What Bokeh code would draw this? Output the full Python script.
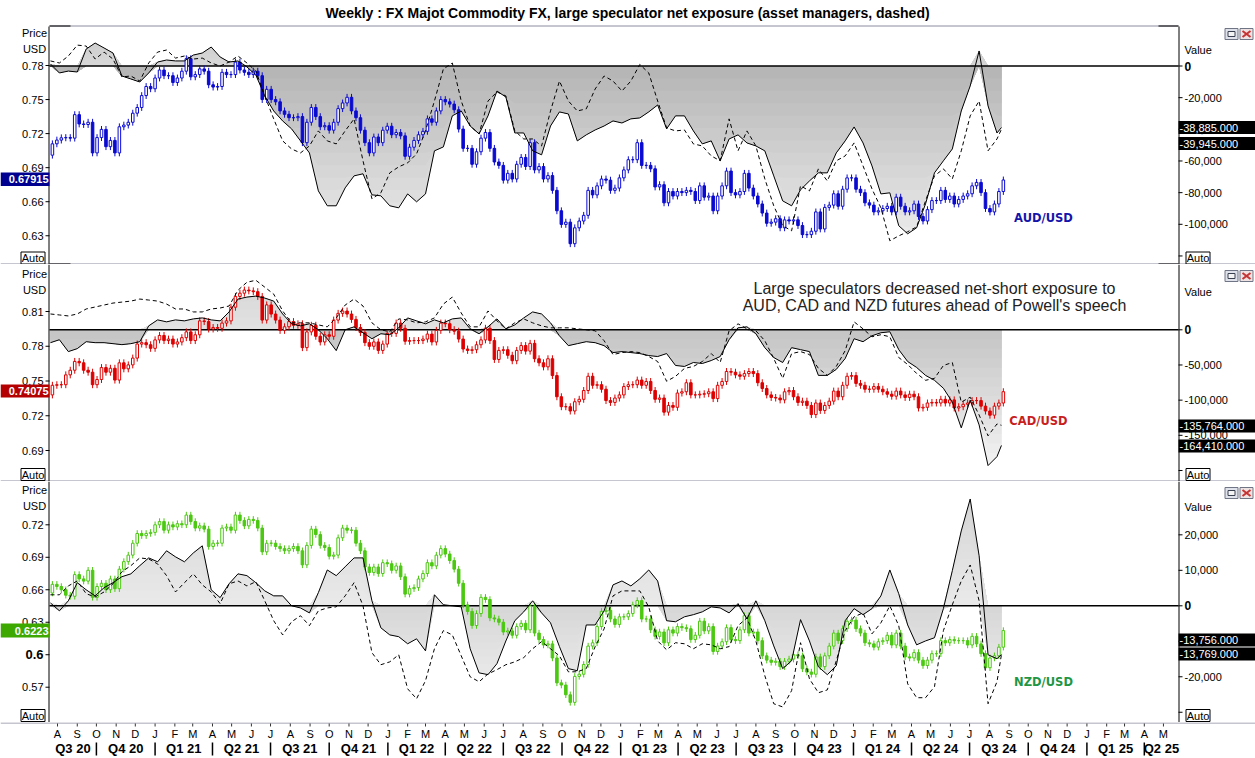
import numpy as np
import pandas as pd
from bokeh.plotting import figure
from bokeh.models import Range1d
from bokeh.layouts import column
from bokeh.embed import file_html
from bokeh.resources import INLINE
from bokeh.core.properties import value

# ---------------------------------------------------------------- data
# weekly closes (Friday), Jul 24 2020 .. Aug 23 2024
aud_open0 = 0.7010
aud_close = [
    .7110, .7143, .7163, .7165, .7160, .7367, .7285, .7280, .7300, .7030, .7165, .7237, .7085, .7140, .7030, .7260,
    .7275, .7300, .7380, .7430, .7535, .7615, .7595,
    .7690, .7760, .7710, .7710, .7650, .7690, .7750, .7860, .7700, .7720, .7770, .7750, .7630, .7610, .7615, .7740,
    .7720, .7720, .7830, .7760, .7740, .7720, .7750, .7710, .7500, .7590, .7500, .7480, .7400, .7370, .7340, .7340,
    .7350, .7120, .7300, .7430, .7350, .7260, .7270, .7230, .7300, .7420, .7470, .7520, .7400, .7340, .7230, .7120,
    .7030, .7170, .7120, .7230, .7265,
    .7190, .7210, .7180, .7000, .7080, .7140, .7190, .7220, .7330, .7300, .7400, .7500, .7480, .7460, .7410, .7240,
    .7070, .7070, .6930, .7040, .7160, .7210, .7070, .6950, .6920, .6790, .6850, .6800, .6930, .6990, .6910, .7120,
    .6880, .6910, .6800, .6830, .6700, .6520, .6400, .6420, .6230, .6370, .6430, .6480, .6700, .6660, .6740, .6800,
    .6790, .6700, .6720, .6810,
    .6880, .6970, .6970, .7120, .6920, .6920, .6890, .6730, .6750, .6590, .6690, .6650, .6690, .6680, .6700, .6690,
    .6610, .6740, .6640, .6650, .6520, .6650, .6740, .6870, .6680, .6660, .6690, .6850, .6720, .6650, .6580, .6500,
    .6410, .6420, .6450, .6370, .6440, .6430, .6440, .6390, .6310, .6310, .6340, .6510, .6360, .6550, .6570, .6670,
    .6560, .6710, .6810, .6810,
    .6710, .6680, .6590, .6570, .6510, .6520, .6540, .6560, .6510, .6640, .6560, .6510, .6520, .6580, .6470, .6430,
    .6530, .6610, .6610, .6700, .6620, .6650, .6580, .6620, .6650, .6670, .6740, .6770, .6680, .6540, .6510, .6580,
    .6690, .67915,
]
cad_open0 = 0.7380
cad_close = [
    .7463, .7468, .7468, .7553, .7593, .7669, .7657, .7593, .7576, .7468, .7513, .7616, .7576, .7610, .7508, .7657,
    .7605, .7639, .7698, .7819, .7831, .7813, .7782,
    .7855, .7893, .7849, .7862, .7819, .7837, .7874, .7924, .7849, .7899, .8019, .8013, .7949, .7962, .7955, .8000,
    .8019, .8137, .8230, .8258, .8285, .8278, .8271, .8230, .8026, .8157, .8078, .8026, .7937, .7968, .8013, .7981,
    .7994, .7788, .7924, .7981, .7886, .7837, .7899, .7886, .8026, .8084, .8104, .8078, .8032, .7962, .7918, .7831,
    .7800, .7837, .7764, .7819, .7911,
    .7911, .8000, .7955, .7843, .7849, .7849, .7849, .7862, .7905, .7837, .7937, .8000, .7994, .7943, .7930, .7862,
    .7776, .7764, .7770, .7813, .7855, .7955, .7849, .7686, .7764, .7770, .7722, .7675, .7764, .7806, .7758, .7825,
    .7692, .7657, .7622, .7692, .7547, .7364, .7278, .7278, .7241, .7321, .7342, .7418, .7541, .7463, .7468, .7429,
    .7331, .7315, .7353, .7380,
    .7452, .7468, .7468, .7508, .7463, .7496, .7418, .7342, .7353, .7231, .7289, .7273, .7396, .7407, .7485, .7380,
    .7380, .7386, .7390, .7407, .7348, .7463, .7496, .7582, .7576, .7553, .7541, .7564, .7582, .7564, .7485, .7435,
    .7380, .7358, .7353, .7337, .7407, .7418, .7364, .7315, .7326, .7289, .7210, .7310, .7246, .7289, .7326, .7413,
    .7364, .7463, .7541, .7547,
    .7479, .7463, .7429, .7429, .7452, .7429, .7407, .7386, .7369, .7413, .7380, .7358, .7386, .7364, .7267, .7273,
    .7310, .7315, .7310, .7342, .7310, .7337, .7267, .7278, .7299, .7310, .7331, .7331, .7283, .7241, .7205, .7283,
    .7310, .74075,
]
nzd_open0 = 0.6570
nzd_close = [
    .6650, .6630, .6600, .6550, .6540, .6740, .6700, .6680, .6780, .6530, .6630, .6660, .6600, .6700, .6610, .6790,
    .6860, .6920, .7030, .7120, .7100, .7120, .7130,
    .7200, .7230, .7150, .7200, .7180, .7210, .7200, .7290, .7230, .7170, .7190, .7160, .7000, .7030, .7030, .7170,
    .7180, .7150, .7290, .7240, .7190, .7250, .7240, .7170, .6950, .7030, .7030, .7000, .6980, .6960, .6980, .7000,
    .6960, .6830, .7010, .7160, .7110, .7010, .6990, .6910, .6920, .7080, .7170, .7150, .7150, .7030, .6960, .6810,
    .6760, .6810, .6750, .6850, .6840,
    .6780, .6820, .6720, .6560, .6610, .6620, .6700, .6750, .6850, .6820, .6920, .6980, .6930, .6870, .6790, .6660,
    .6460, .6400, .6270, .6380, .6530, .6510, .6340, .6330, .6300, .6210, .6220, .6180, .6260, .6290, .6230, .6450,
    .6200, .6140, .6090, .6100, .5970, .5740, .5720, .5630, .5560, .5800, .5820, .5910, .6080, .6110, .6260, .6400,
    .6410, .6330, .6280, .6350,
    .6350, .6380, .6460, .6500, .6330, .6330, .6230, .6170, .6210, .6110, .6230, .6200, .6260, .6250, .6240, .6140,
    .6180, .6310, .6220, .6260, .6030, .6080, .6120, .6250, .6140, .6130, .6230, .6360, .6200, .6210, .6130, .5990,
    .5950, .5930, .5940, .5890, .5940, .5960, .6000, .5990, .5870, .5840, .5820, .5980, .5890, .5990, .6080, .6200,
    .6130, .6240, .6310, .6320,
    .6240, .6200, .6110, .6100, .6070, .6120, .6130, .6180, .6090, .6200, .6080, .5980, .5970, .6020, .5950, .5900,
    .5950, .6010, .6010, .6130, .6110, .6140, .6130, .6130, .6130, .6090, .6170, .6100, .6010, .5880, .5970, .5990,
    .6070, .6223,
]
last_candle = "2024-08-23"

# net positioning, sampled every 2nd COT week from Jul 21 2020, last point = Aug 20 2024
aud_spec = [
    1300, -4400, -3200, -3800, 10700, 14500, 11400, 8200, -6300, -8200,
    -10100, -4400, 2500, 3800, 3200, 3200, 6900, 8200, 12000, 5700,
    2500, 3200, -600, -5700, -18900, -28400, -34700, -39700, -47300, -54900,
    -78900, -88300, -88300, -77000, -69400, -68100, -81400, -82000, -88300, -89600,
    -80800, -85800, -80800, -53600, -51100, -31500, -28400, -37900, -42900, -31500,
    -15800, -19600, -42300, -42300, -53600, -56100, -37900, -29000, -30300, -47300,
    -43500, -40400, -37900, -34700, -36000, -33400, -32800, -29000, -24600, -39700,
    -31500, -31500, -41000, -49200, -47300, -59900, -46100, -43500, -48600, -50500,
    -53600, -69400, -85200, -88300, -78200, -72600, -67500, -67500, -54900, -47300,
    -38500, -48600, -63100, -80800, -80100, -100900, -106000, -102200, -87100, -67500,
    -59900, -52400, -28400, -12600, 9500, -25200, -42300, -38885,
]
aud_am = [
    3200, 1900, 6300, 13200, 12600, 4400, 8800, 4400, -6900, -6300,
    -9500, 1900, 8800, 10100, 5000, 6300, 4400, 5000, 1900, 0,
    2500, 6300, 1900, -3200, -18900, -33400, -47300, -52400, -54900, -50500,
    -41000, -47300, -49200, -41000, -33400, -59900, -83900, -80100, -67500, -63700,
    -61200, -55500, -41000, -22100, -1900, 1900, -22100, -37900, -42900, -22100,
    -16400, -18900, -41000, -46100, -46100, -50500, -28400, -9500, -22100, -28400,
    -27100, -14500, -6300, -9500, -15800, -9500, 1000, -4400, -22100, -39100,
    -41000, -40400, -49200, -50500, -56800, -59900, -33400, -53600, -41000, -50500,
    -71300, -88300, -100900, -104100, -75700, -78900, -65000, -72600, -59900, -56800,
    -48600, -63100, -77600, -89600, -110400, -107300, -104700, -101600, -85200, -69400,
    -65000, -71300, -53600, -31500, -22100, -53600, -46100, -39945,
]
cad_spec = [
    -18300, -14100, -31000, -26800, -16900, -18300, -18300, -19700, -21100, -19700,
    -16900, 5600, 14100, 11300, 14100, 12700, 15500, 16900, 14100, 12700,
    25400, 43700, 46500, 47900, 45100, 40800, 22500, 8500, 5600, 8500,
    0, -12700, -29600, 0, 4200, -4200, -12700, -5600, -7000, 2800,
    16900, 12700, 8500, 14100, 9900, 15500, 16900, 1400, -5600, 4200,
    15500, 1400, 7000, 16900, 25400, 22500, 9900, -8500, -22500, -19700,
    -16900, -18300, -22500, -32400, -31000, -32400, -33800, -36600, -38000, -33800,
    -50700, -52100, -46500, -47900, -43700, -38000, -14100, 2800, 4200, -5600,
    -25400, -39400, -46500, -25400, -28200, -31000, -64800, -64800, -56300, -40800,
    -12700, -16900, -8500, -4200, -2800, -28200, -45100, -53500, -64800, -71800,
    -83100, -102800, -139400, -100000, -135200, -193000, -180300, -164410,
]
cad_am = [
    22500, 21100, 19700, 22500, 29600, 32400, 35200, 38000, 39400, 40800,
    43700, 42300, 40800, 36600, 29600, 29600, 25400, 25400, 29600, 31000,
    33800, 56300, 67600, 70400, 60600, 50700, 26800, 9900, 9900, 9900,
    7000, 4200, 16900, 35200, 43700, 33800, 9900, 0, -2800, 15500,
    14100, 9900, 11300, 16900, 36600, 46500, 23900, 4200, 4200, 26800,
    12700, 1400, 9900, 15500, 9900, 5600, 2800, 2800, 2800, 1400,
    0, -1400, -15500, -35200, -32400, -31000, -32400, -38000, -45100, -73200,
    -66200, -54900, -52100, -45100, -33800, -46500, -1400, 8500, 1400, -1400,
    -15500, -40800, -69000, -33800, -31000, -35200, -54900, -64800, -52100, -29600,
    11300, 1400, -9900, -7000, -9900, -39400, -49300, -62000, -71800, -69000,
    -50700, -46500, -102800, -95800, -121100, -150700, -133800, -135764,
]
nzd_spec = [
    800, -1400, 1400, 6500, 4500, 2800, 5100, 6500, 8200, 9000,
    11300, 13500, 12400, 15500, 13800, 12400, 14900, 16900, 4500, 2300,
    6200, 9000, 8500, 6500, 4200, 2800, 2800, 0, -600, -2000,
    3700, 10100, 8500, 11000, 13500, 13500, 1400, -6200, -8200, -8700,
    -10700, -9300, -12700, 3100, 300, 0, -300, -12100, -18900, -19400,
    -16300, -9900, -4200, -1700, 1400, -2000, -4800, -11500, -17700, -18300,
    -5400, -5400, -1400, 5900, 7000, 5600, 7600, 10100, 7000, -4200,
    -4500, -3100, -2500, -1700, -300, -600, -2000, 600, -3700, 1400,
    -4200, -11300, -17700, -15500, -3900, -9900, -17200, -19400, -16900, -4200,
    -800, -2500, -800, 2800, 10100, 3400, -5400, -11000, -9900, -9000,
    -800, 9900, 21100, 30100, 14100, -13800, -14900, -13756,
]
nzd_am = [
    3100, 3100, 5600, 7000, 3400, 2500, 3900, 6200, 9600, 11300,
    13500, 13200, 11800, 8500, 3900, 6500, 9000, 5900, 3900, 600,
    6200, 7000, 5600, 6800, 1400, -4200, -8200, -4500, -2800, -5600,
    -1400, -600, -300, 2800, 6500, 0, -13200, -16600, -15800, -13800,
    -23400, -26200, -21100, -12100, -7000, -8200, -14100, -20000, -21400, -19200,
    -18000, -16600, -15800, -14600, -12100, -10100, -12100, -14100, -18600, -18600,
    -17700, -11500, -6500, 2800, 4200, 4200, 4200, -300, -9900, -12400,
    -10400, -10700, -12100, -10700, -11000, -12100, -11500, -5600, -3400, -9900,
    -19700, -27600, -28500, -23900, -10400, -20600, -24500, -23700, -15500, -7000,
    -3100, -2000, -7900, -4800, 0, -5600, -22000, -25900, -25900, -22800,
    -7000, 300, 7000, 11500, 1400, -27600, -21400, -13769,
]
line_start = "2020-07-21"
line_last = "2024-08-20"

# axis ticks (labels hidden behind the "Auto" boxes are not printed)
aud_price_ticks = [0.63, 0.66, 0.69, 0.72, 0.75, 0.78]
aud_value_ticks = [0, -20000, -40000, -60000, -80000, -100000, -120000]
aud_value_hidden = [-120000]
cad_price_ticks = [0.69, 0.72, 0.75, 0.78, 0.81]
cad_value_ticks = [0, -50000, -100000, -150000, -200000]
cad_value_hidden = [-200000]
nzd_price_ticks = [0.57, 0.6, 0.63, 0.66, 0.69, 0.72]
nzd_value_ticks = [20000, 10000, 0, -10000, -20000, -30000]
nzd_value_hidden = [-30000]

month_letters = list("ASOND" + "JFMAMJJASOND" * 4 + "JFMAM")   # Aug 2020 .. May 2025
quarter_labels = ["Q3 20", "Q4 20", "Q1 21", "Q2 21", "Q3 21", "Q4 21", "Q1 22", "Q2 22", "Q3 22", "Q4 22",
                  "Q1 23", "Q2 23", "Q3 23", "Q4 23", "Q1 24", "Q2 24", "Q3 24", "Q4 24", "Q1 25", "Q2 25"]

title_text = "Weekly : FX Majot Commodity FX, large speculator net exposure (asset managers, dashed)"
note1 = "Large speculators decreased net-short exposure to"
note2 = "AUD, CAD and NZD futures ahead of Powell's speech"

# ---------------------------------------------------------------- geometry helpers
DAY = 86400000.0
BASE = pd.Timestamp("2020-08-01").value / 1e6
PPD = 0.6378           # pixels per day
W = 1255
FONT = "Liberation Sans"
FL, FR = 49, 1178      # plotting pane left / right edge (pixels)


def X(px):
    return BASE + (px - 57) / PPD * DAY


xr = Range1d(X(0), X(W))


def to_ms(idx):
    return np.array([pd.Timestamp(d).value / 1e6 for d in idx])


cdates = to_ms(pd.date_range(end=last_candle, periods=len(aud_close), freq="7D"))


def line_dates(n):
    d = list(pd.date_range(line_start, periods=n - 1, freq="14D")) + [pd.Timestamp(line_last)]
    return to_ms(d)


def mix(c0, c1, t):
    a = [int(c0[i:i + 2], 16) for i in (1, 3, 5)]
    b = [int(c1[i:i + 2], 16) for i in (1, 3, 5)]
    return "#%02x%02x%02x" % tuple(int(round(a[k] + (b[k] - a[k]) * t)) for k in range(3))


def new_fig(h, yr):
    p = figure(width=W, height=h, x_range=xr, y_range=yr, x_axis_type=None, y_axis_type=None,
               output_backend="svg", toolbar_location=None, min_border=0)
    p.outline_line_color = None
    p.grid.visible = False
    p.background_fill_color = "white"
    p.border_fill_color = "white"
    return p


class Panel:
    """top/bot: page pixel rows of this figure; price & value scales calibrated from the tick rows."""

    def __init__(self, top, bot, frame_top, p_ref, p_ref_py, p_per_px, v_zero_py, v_per_px):
        self.top, self.bot, self.frame_top = top, bot, frame_top
        self.pY = lambda py: p_ref - (py - p_ref_py) * p_per_px
        self.vY = lambda py: -(py - v_zero_py) * v_per_px
        p = new_fig(bot - top, Range1d(self.pY(bot), self.pY(top)))
        p.extra_y_ranges = {"val": Range1d(self.vY(bot), self.vY(top))}
        self.p = p

    # ---- texts / boxes in pixel positions
    def txt(self, px, py, s, size="11px", color="black", bold=False, align="left", font=FONT):
        self.p.text(x=[X(px)], y=[self.pY(py)], text=[s], text_font=value(font), text_font_size=size,
                    text_color=color, text_font_style="bold" if bold else "normal",
                    text_align=align, text_baseline="middle")

    def box(self, x0, x1, y0, y1, fill, line=None):
        self.p.quad(left=[X(x0)], right=[X(x1)], top=[self.pY(y0)], bottom=[self.pY(y1)],
                    fill_color=fill, line_color=line, line_width=1)

    def hline(self, x0, x1, py, color, width=1):
        self.p.segment(x0=[X(x0)], y0=[self.pY(py)], x1=[X(x1)], y1=[self.pY(py)],
                       line_color=color, line_width=width)

    # ---- chart parts
    def fills(self, xs, v, below, above, n=16):
        p = self.p
        v = np.asarray(v, float)
        vmin, vmax = self.vY(self.bot), self.vY(self.frame_top)
        for j in range(n - 1, -1, -1):
            lo = vmin * (j + 1) / n
            p.varea(x=xs, y1=np.clip(v, lo, 0), y2=np.zeros_like(v),
                    fill_color=mix(below[0], below[1], (j + 0.5) / n), y_range_name="val")
        for j in range(n - 1, -1, -1):
            hi = vmax * (j + 1) / n
            p.varea(x=xs, y1=np.zeros_like(v), y2=np.clip(v, 0, hi),
                    fill_color=mix(above[0], above[1], (j + 0.5) / n), y_range_name="val")
        p.segment(x0=[X(FL)], y0=[0], x1=[X(FR)], y1=[0], line_color="black", line_width=1.5,
                  y_range_name="val")

    def candles(self, open0, closes, color, wick=0.003):
        p = self.p
        c = np.asarray(closes, float)
        o = np.concatenate([[open0], c[:-1]])
        up = c >= o
        hi = np.maximum(o, c) + wick
        lo = np.minimum(o, c) - wick
        p.segment(x0=cdates, y0=hi, x1=cdates, y1=lo, line_color=color, line_width=1)
        w = 4.0 * DAY
        p.vbar(x=cdates[up], top=c[up], bottom=o[up], width=w, fill_color="white", line_color=color,
               line_width=1)
        p.vbar(x=cdates[~up], top=o[~up], bottom=c[~up], width=w, fill_color=color, line_color=color,
               line_width=1)

    def lines(self, spec, am):
        self.p.line(line_dates(len(spec)), spec, line_color="black", line_width=1, y_range_name="val")
        self.p.line(line_dates(len(am)), am, line_color="black", line_width=1, line_dash="4 3",
                    y_range_name="val")

    def axes(self, pticks, vticks, vhidden=(), bold_p=()):
        p = self.p
        yt, yb = self.pY(self.frame_top), self.pY(self.bot)
        p.segment(x0=[X(FL - 0.5), X(FR + 0.5)], y0=[yt, yt], x1=[X(FL - 0.5), X(FR + 0.5)], y1=[yb, yb],
                  line_color="black", line_width=1)
        n = len(pticks)
        p.segment(x0=[X(FL - 4)] * n, y0=pticks, x1=[X(FL)] * n, y1=pticks, line_color="black", line_width=1)
        norm = [t for t in pticks if t not in bold_p]
        p.text(x=[X(FL - 6)] * len(norm), y=norm, text=["%.2f" % t for t in norm], text_font=value(FONT),
               text_font_size="11px", text_align="right", text_baseline="middle", text_color="black")
        for t in bold_p:
            p.text(x=[X(FL - 6)], y=[t], text=["%g" % t], text_font=value(FONT), text_font_size="13px",
                   text_font_style="bold", text_align="right", text_baseline="middle", text_color="black")
        m = len(vticks)
        p.segment(x0=[X(FR)] * m, y0=vticks, x1=[X(FR + 4)] * m, y1=vticks, line_color="black",
                  line_width=1, y_range_name="val")
        nz = [t for t in vticks if t != 0 and t not in vhidden]
        p.text(x=[X(FR + 6)] * len(nz), y=nz, text=["{:,}".format(t) for t in nz], text_font=value(FONT),
               text_font_size="11px", text_align="left", text_baseline="middle", text_color="black",
               y_range_name="val")
        if 0 in vticks:
            p.text(x=[X(FR + 6)], y=[0], text=["0"], text_font=value(FONT), text_font_size="12px",
                   text_font_style="bold", text_align="left", text_baseline="middle", text_color="black",
                   y_range_name="val")

    def icons(self, y0):
        self.box(1224.5, 1237.5, y0, y0 + 11, "#dfe2ea", "#6f7585")
        self.box(1227.5, 1234.5, y0 + 3, y0 + 8, "#f4f4f4", "#3a4050")
        self.box(1239.5, 1252.5, y0, y0 + 11, "#efe2e2", "#6f7585")
        p = self.p
        p.segment(x0=[X(1242), X(1242)], y0=[self.pY(y0 + 2.5), self.pY(y0 + 8.5)],
                  x1=[X(1250), X(1250)], y1=[self.pY(y0 + 8.5), self.pY(y0 + 2.5)],
                  line_color="#c83232", line_width=2)


# ---------------------------------------------------------------- panels
P1 = Panel(0, 264, 26, 0.78, 65.0, 0.000881, 65.5, 631.7)
P2 = Panel(264, 481, 264, 0.81, 311.0, 0.0008633, 329.3, 1421.5)
P3 = Panel(481, 722, 481, 0.72, 524.3, 0.0009236, 605.3, 281.8)

P1.fills(line_dates(len(aud_spec)), aud_spec, ("#b4b4b4", "#f4f4f4"), ("#d8d8d8", "#c8c8c8"))
P2.fills(line_dates(len(cad_spec)), cad_spec, ("#c4c4c4", "#f8f8f8"), ("#e2e2e2", "#d2d2d2"))
P3.fills(line_dates(len(nzd_spec)), nzd_spec, ("#d6d6d6", "#f6f6f6"), ("#eaeaea", "#d2d2d2"))

P1.candles(aud_open0, aud_close, "#0a0ad0")
P2.candles(cad_open0, cad_close, "#dd0000")
P3.candles(nzd_open0, nzd_close, "#4cc812")

P1.lines(aud_spec, aud_am)
P2.lines(cad_spec, cad_am)
P3.lines(nzd_spec, nzd_am)

# frame edges / separators
P1.hline(FL, FR, 25.5, "#8c8ca0")
P1.hline(0, W, 263.5, "#8c8ca0")
P2.hline(0, W, 480.5, "#8c8ca0")
for xa, xb in ((FL, 70), (1158, FR)):
    P1.hline(xa, xb, 25.5, "black")
    P1.hline(xa, xb, 263.5, "black")

P1.axes(aud_price_ticks, aud_value_ticks, aud_value_hidden)
P2.axes(cad_price_ticks, cad_value_ticks, cad_value_hidden)
P3.axes(nzd_price_ticks, nzd_value_ticks, nzd_value_hidden, bold_p=(0.6,))

# ---------------------------------------------------------------- texts
P1.txt(627, 12, title_text, size="14px", bold=True, align="center")
P2.txt(934, 288, note1, size="16px", color="#222222", align="center")
P2.txt(934, 305, note2, size="16px", color="#222222", align="center")

for P, yp, yu, yv, ya, yi in ((P1, 32, 48, 49, 257.5, 28), (P2, 273, 289, 291, 474, 270),
                              (P3, 489, 505, 506, 715, 487)):
    P.txt(34, yp, "Price", align="center")
    P.txt(34, yu, "USD", align="center")
    P.txt(1184, yv, "Value")
    P.box(20.5, 44.5, ya - 6, ya + 6, "white", "black")
    P.txt(32.5, ya, "Auto", align="center")
    P.box(1185.5, 1209.5, ya - 6, ya + 6, "white", "black")
    P.txt(1197.5, ya, "Auto", align="center")
    P.icons(yi)

P1.box(0, 49, 172, 185.5, "#000090")
P1.txt(48, 178.5, "0.67915", color="white", bold=True, align="right")
P2.box(0, 49, 384, 397, "#b40000")
P2.txt(48, 390.5, "0.74075", color="white", bold=True, align="right")
P3.box(0, 49, 623, 637, "#3ca800")
P3.txt(48, 630, "0.6223", color="white", bold=True, align="right")

for P, y0, s in ((P1, 120.5, "-38,885.000"), (P1, 136.5, "-39,945.000"),
                 (P2, 419, "-135,764.000"), (P2, 439, "-164,410.000"),
                 (P3, 633, "-13,756.000"), (P3, 647, "-13,769.000")):
    P.box(1178, W, y0, y0 + 13, "black")
    P.txt(1179, y0 + 6.5, s, color="white")

P1.txt(1043, 217, "AUD/USD", size="11.5px", color="#1414aa", bold=True, align="center", font="DejaVu Sans")
P2.txt(1038, 420, "CAD/USD", size="11.5px", color="#c81e1e", bold=True, align="center", font="DejaVu Sans")
P3.txt(1043, 681, "NZD/USD", size="11.5px", color="#1e9646", bold=True, align="center", font="DejaVu Sans")

# ---------------------------------------------------------------- date footer
FH = 35                      # page rows 722 .. 757
pf = new_fig(FH, Range1d(0, FH))


def fy(py):
    return 722 + FH - py


months = to_ms(pd.date_range("2020-08-01", periods=len(month_letters), freq="MS"))
pf.segment(x0=[X(0)], y0=[fy(722.5)], x1=[X(W)], y1=[fy(722.5)], line_color="#8c8ca0", line_width=1)
pf.segment(x0=months, y0=[fy(723)] * len(months), x1=months, y1=[fy(726)] * len(months),
           line_color="#333333", line_width=1)
pf.text(x=months, y=[fy(733)] * len(months), text=month_letters, text_font=value(FONT),
        text_font_size="11px", text_align="center", text_baseline="middle", text_color="black")

qs = to_ms(pd.date_range("2020-07-01", periods=len(quarter_labels) + 1, freq="QS"))
lo_x, hi_x = X(FL), X(FR)
qc = [(max(qs[i], lo_x) + min(qs[i + 1], hi_x)) / 2 for i in range(len(quarter_labels))]
pf.text(x=qc, y=[fy(748)] * len(qc), text=quarter_labels, text_font=value(FONT), text_font_size="13px",
        text_font_style="bold", text_align="center", text_baseline="middle", text_color="black")
sep = qs[1:-1]
pf.segment(x0=sep, y0=[fy(742)] * len(sep), x1=sep, y1=[fy(755)] * len(sep), line_color="black",
           line_width=1.5)

layout = column(P1.p, P2.p, P3.p, pf, spacing=0)
open("out.html", "w").write(file_html(layout, INLINE, "Weekly FX"))
